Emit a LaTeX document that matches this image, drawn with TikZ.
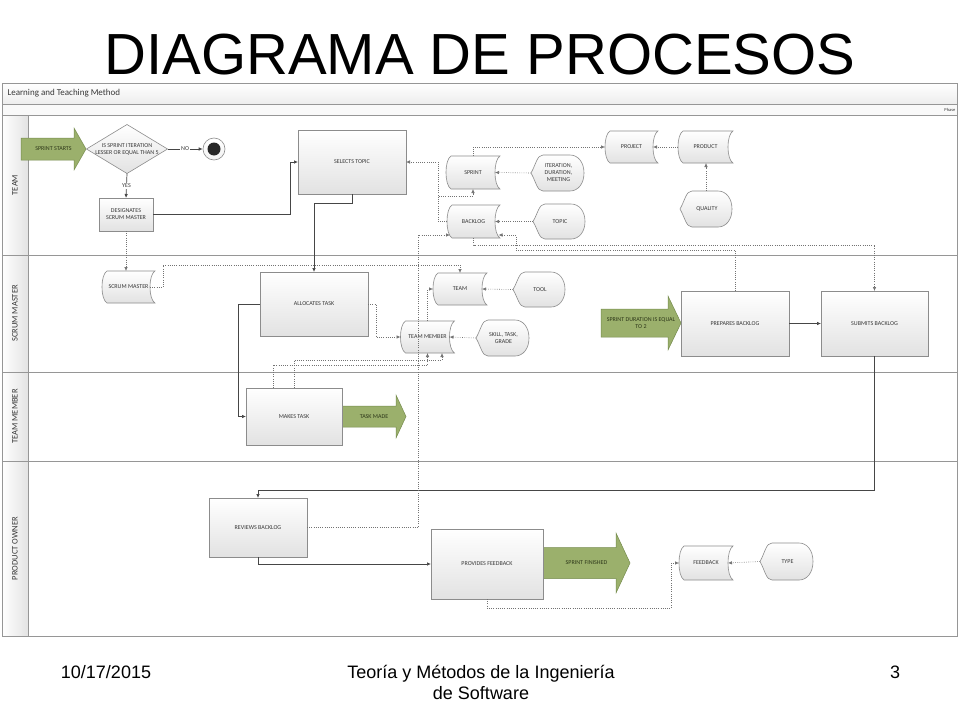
\documentclass[tikz,border=0pt]{standalone}
\usepackage{fontspec}
\setmainfont{Carlito}
\newfontfamily\arialf{Liberation Sans}
\usetikzlibrary{arrows.meta,calc}
\definecolor{gfill}{RGB}{155,176,108}
\definecolor{gdraw}{RGB}{118,140,78}
\definecolor{gtext}{RGB}{45,55,25}
\definecolor{bdraw}{RGB}{140,140,140}
\definecolor{bfillb}{RGB}{226,226,226}
\definecolor{lgray}{RGB}{70,70,70}
\definecolor{dgray}{RGB}{115,115,115}
\definecolor{txt}{RGB}{55,55,55}
\definecolor{framec}{RGB}{150,150,150}
\tikzset{
 x=1pt, y=-1pt,
 box/.style={draw=bdraw, line width=0.6pt, top color=white, bottom color=bfillb, font=\fontsize{6}{7}\selectfont, text=txt, align=center, inner sep=0pt, outer sep=0pt},
 anchorbox/.style={inner sep=0pt, outer sep=0pt},
 shapefill/.style={draw=bdraw, line width=0.6pt, top color=white, bottom color=bfillb},
 lbl/.style={font=\fontsize{6}{7}\selectfont, text=txt, align=center, inner sep=0pt},
 greenarrow/.style={draw=gdraw, line width=0.5pt, fill=gfill},
 glbl/.style={font=\fontsize{6}{7}\selectfont, text=gtext, align=center, inner sep=0pt},
 flow/.style={draw=lgray, line width=0.7pt, -{Latex[length=4pt,width=3.5pt]}},
 assoc/.style={draw=dgray, line width=0.6pt, dash pattern=on 0.7pt off 1.5pt, -{Latex[length=4pt,width=3.5pt]}},
 lane/.style={draw=framec, line width=0.7pt},
 lanelbl/.style={rotate=90, font=\fontsize{8.5}{10}\selectfont, text=txt},
 footer/.style={font=\arialf\fontsize{18}{21}\selectfont, align=center},
}
% stored-data shape: convex left side, concave right side
\newcommand\sdshape[5]{%
 \path (#2) node[anchorbox, minimum width=#3, minimum height=#4] (#1) {};
 \path[shapefill] ($(#1.north west)+(5,0)$) -- (#1.north east)
   .. controls ($(#1.north east)+(-6.7,{0.12*#4})$) and ($(#1.south east)+(-6.7,{-0.12*#4})$) .. (#1.south east)
   -- ($(#1.south west)+(5,0)$)
   .. controls ($(#1.south west)+(-1.7,{-0.12*#4})$) and ($(#1.north west)+(-1.7,{0.12*#4})$) .. ($(#1.north west)+(5,0)$) -- cycle;
 \node[lbl] (#1-t) at (#1.center) {#5};
 \coordinate (#1-e) at ([xshift=-5pt]#1.east);
}
% display shape: pointed left side, rounded right side
\newcommand\dispshape[5]{%
 \path (#2) node[anchorbox, minimum width=#3, minimum height=#4] (#1) {};
 \path[shapefill] (#1.west)
   .. controls ($(#1.west)+(5,{-0.24*#4})$) and ($(#1.north west)+(6,0)$) .. ($(#1.north west)+(12,0)$)
   -- ($(#1.north east)+(-14,0)$)
   .. controls ($(#1.north east)+(-6,0)$) and ($(#1.east)+(0,{-0.3*#4})$) .. (#1.east)
   .. controls ($(#1.east)+(0,{0.3*#4})$) and ($(#1.south east)+(-6,0)$) .. ($(#1.south east)+(-14,0)$)
   -- ($(#1.south west)+(12,0)$)
   .. controls ($(#1.south west)+(6,0)$) and ($(#1.west)+(5,{0.24*#4})$) .. (#1.west) -- cycle;
 \node[lbl] (#1-t) at ([xshift=1pt]#1.center) {#5};
}
\newcommand\garrow[8]{%
 \path[greenarrow] (#2,{#5-#6}) -- (#3,{#5-#6}) -- (#3,{#5-#7}) -- (#4,#5) -- (#3,{#5+#7}) -- (#3,{#5+#6}) -- (#2,{#5+#6}) -- cycle;
 \node[glbl] (#1) at ({(#2+#4)/2},#5) {#8};
}
\begin{document}
\begin{tikzpicture}
\useasboundingbox (0,0) rectangle (960,720);
\fill[white] (0,0) rectangle (960,720);
% title and footer
\node[font=\arialf\fontsize{58}{60}\selectfont] (title) at (480,55) {DIAGRAMA DE PROCESOS};
\node[footer] (date) at (106,672) {10/17/2015};
\node[footer] (course) at (481,682) {Teoría y Métodos de la Ingeniería\\de Software};
\node[footer] (pagenum) at (895,672) {3};
% pool frame
\path[top color=white, bottom color=gray!14] (2,83) rectangle (957,104);
\path[fill=gray!5] (2,104) rectangle (957,115);
\path[left color=white, right color=gray!22] (2,115) rectangle (28,636);
\draw[lane] (2,83) rectangle (957,636);
\draw[lane] (2,104) -- (957,104);
\draw[lane] (2,115) -- (957,115);
\draw[lane] (28,115) -- (28,636);
\draw[lane] (2,255) -- (957,255);
\draw[lane] (2,372) -- (957,372);
\draw[lane] (2,461) -- (957,461);
\node[anchor=west, font=\fontsize{9}{10}\selectfont, text=txt] (pooltitle) at (4,93.5) {Learning and Teaching Method};
\node[anchor=east, font=\fontsize{4.5}{5}\selectfont, text=txt, inner sep=0.5pt] (phase) at (956,110) {Phase};
\node[lanelbl] (lteam) at (15,185) {TEAM};
\node[lanelbl] (lsm) at (15,313.5) {SCRUM MASTER};
\node[lanelbl] (ltm) at (15,416.5) {TEAM MEMBER};
\node[lanelbl] (lpo) at (15,548.5) {PRODUCT OWNER};
% green arrows
\garrow{sprintstarts}{21}{74}{86}{149}{11}{21}{SPRINT STARTS}
\garrow{sprintdur}{601}{668}{681}{323}{14}{27}{SPRINT DURATION IS EQUAL\\TO 2}
\garrow{taskmade}{342}{396}{406}{416.5}{10.5}{21.5}{TASK MADE}
\garrow{sprintfin}{543}{616}{630}{563}{15.5}{30}{SPRINT FINISHED}
% decision and end
\path (127,149) node[anchorbox, minimum width=81, minimum height=49] (dia) {};
\path[shapefill] (dia.north) -- (dia.east) -- (dia.south) -- (dia.west) -- cycle;
\node[lbl] (dia-t) at (dia.center) {IS SPRINT ITERATION\\LESSER OR EQUAL THAN 5};
\node[circle, draw=bdraw, line width=0.6pt, top color=white, bottom color=gray!10, minimum size=22, inner sep=0pt] (endc) at (214,149) {};
\fill[black!85] (endc.center) circle[radius=6.5pt];
% process boxes
\node[box, minimum width=54, minimum height=33] (designates) at (126,214.5) {DESIGNATES\\SCRUM MASTER};
\node[box, minimum width=108, minimum height=64] (selects) at (352,162) {SELECTS TOPIC};
\node[box, minimum width=108, minimum height=64] (allocates) at (314,304) {ALLOCATES TASK};
\node[box, minimum width=96, minimum height=57] (makes) at (294,416.5) {MAKES TASK};
\node[box, minimum width=108, minimum height=65] (prepares) at (735,323.5) {PREPARES BACKLOG};
\node[box, minimum width=107, minimum height=65] (submits) at (874.5,323.5) {SUBMITS BACKLOG};
\node[box, minimum width=98, minimum height=59] (reviews) at (258,527.5) {REVIEWS BACKLOG};
\node[box, minimum width=112, minimum height=70] (provides) at (487,564) {PROVIDES FEEDBACK};
% data shapes
\sdshape{smd}{128.5,287}{53}{32}{SCRUM MASTER}
\sdshape{team}{460,289}{54}{32}{TEAM}
\sdshape{teammember}{427.5,337}{54}{32}{TEAM MEMBER}
\sdshape{sprint}{473,172.5}{54}{33}{SPRINT}
\sdshape{backlog}{473.5,221.5}{53}{33}{BACKLOG}
\sdshape{project}{631.5,147}{53}{32}{PROJECT}
\sdshape{product}{705.5,147}{55}{32}{PRODUCT}
\sdshape{feedback}{706,563}{54}{34}{FEEDBACK}
\dispshape{iteration}{557.5,173}{53}{36}{ITERATION,\\DURATION,\\MEETING}
\dispshape{topic}{559,221.5}{52}{35}{TOPIC}
\dispshape{quality}{706,209}{52}{36}{QUALITY}
\dispshape{tool}{539,289.5}{52}{35}{TOOL}
\dispshape{skill}{502.5,338}{53}{36}{SKILL, TASK,\\GRADE}
\dispshape{type}{786.5,561.5}{53}{37}{TYPE}
% solid flows
\draw[flow] (dia.east) -- node[lbl, fill=white, inner sep=0.8pt] (nolbl) {NO} (endc.west);
\draw[flow] (dia.south) -- node[lbl, fill=white, inner sep=0.8pt] (yeslbl) {YES} (designates.north);
\draw[flow] (designates.east) -| ([xshift=-8pt]selects.west) -- (selects.west);
\draw[flow] (selects.south) -- (352,203) -| (allocates.north);
\draw[flow] (allocates.west) -- ([xshift=-22pt]allocates.west) |- (makes.west);
\draw[flow] (prepares.east) -- (submits.west);
\draw[flow] (submits.south) -- (874.5,490) -| (reviews.north);
\draw[flow] (reviews.south) |- (provides.west);
% dotted associations
\draw[assoc] (designates.south) -- (designates.south |- smd.north);
\draw[assoc] (smd-e) -- (163,287) -- (163,265) -| (team.north);
\draw[assoc] (tool.west) -- (team-e);
\draw[assoc] (skill.west) -- (teammember-e);
\draw[assoc] (allocates.east) -- (376,304) |- (teammember.west);
\draw[assoc] (teammember.north) |- (team.west);
\draw[assoc] ([xshift=-21pt]makes.north) -- (273,365) -| (teammember.south);
\draw[assoc] (makes.north) -- (294,360) -| ([xshift=14.5pt]teammember.south);
\draw[assoc] (reviews.east) -| (418,235) -- ([xshift=3pt,yshift=-13.5pt]backlog.west);
\draw[assoc] (backlog.west) -- (438,221.5) |- (selects.east);
\draw[assoc] (backlog.west) -- (438,221.5) -- (438,196) -| (sprint.south);
\draw[assoc] (iteration.west) -- (sprint-e);
\draw[assoc] (topic.west) -- (backlog-e);
\draw[assoc] (sprint.north) |- (project.west);
\draw[assoc] (product.west) -- (project-e);
\draw[assoc] (quality.north) -- (quality.north |- product.south);
\draw[assoc] (prepares.north) |- (516,250) -- (516,235) -- ([xshift=-1.5pt,yshift=-13.5pt]backlog.east);
\draw[assoc] (backlog.south) -- (473.5,245) -| (submits.north);
\draw[assoc] (provides.south) -- (487,608) -| (671,563) -- (feedback.west);
\draw[assoc] (type.west) -- (feedback-e);
\end{tikzpicture}
\end{document}
